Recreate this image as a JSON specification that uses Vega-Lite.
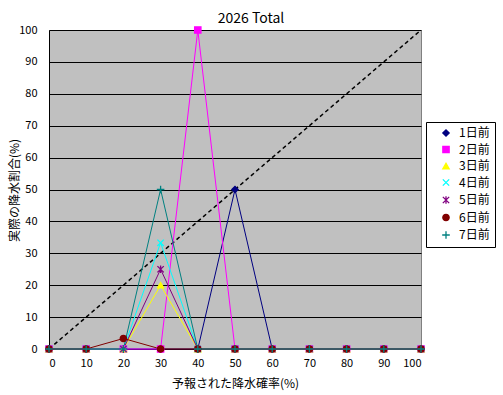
{
  "$schema": "https://vega.github.io/schema/vega-lite/v6.json",
  "width": 372,
  "height": 319,
  "autosize": {"type": "none"},
  "padding": {"left": 49, "top": 30, "right": 82, "bottom": 46},
  "background": "white",
  "title": {"text": "2026 Total", "fontSize": 14, "fontWeight": "normal", "font": "Noto Sans CJK JP", "color": "black", "offset": -2, "dx": 16},
  "config": {
    "view": {"fill": "#c0c0c0", "stroke": "#808080", "strokeWidth": 1},
    "axis": {"labelFont": "Noto Sans CJK JP", "titleFont": "Noto Sans CJK JP", "labelFontSize": 11, "titleFontSize": 12, "titleFontWeight": "normal", "labelColor": "black", "titleColor": "black", "domainColor": "black", "ticks": false},
    "legend": {"labelFont": "Noto Sans CJK JP", "labelFontSize": 12, "labelColor": "black", "title": null, "orient": "none", "legendX": 377, "legendY": 92, "strokeColor": "black", "fillColor": "white", "padding": 5, "rowPadding": 4.5, "symbolSize": 40, "symbolStrokeWidth": 1.3, "symbolOffset": 9, "labelOffset": 7}
  },
  "datasets": {
    "obs": [
      {"p": 0, "s": "1日前", "v": 0}, {"p": 10, "s": "1日前", "v": 0}, {"p": 20, "s": "1日前", "v": 0}, {"p": 30, "s": "1日前", "v": 0}, {"p": 40, "s": "1日前", "v": 0}, {"p": 50, "s": "1日前", "v": 50}, {"p": 60, "s": "1日前", "v": 0}, {"p": 70, "s": "1日前", "v": 0}, {"p": 80, "s": "1日前", "v": 0}, {"p": 90, "s": "1日前", "v": 0}, {"p": 100, "s": "1日前", "v": 0},
      {"p": 0, "s": "2日前", "v": 0}, {"p": 10, "s": "2日前", "v": 0}, {"p": 20, "s": "2日前", "v": 0}, {"p": 30, "s": "2日前", "v": 0}, {"p": 40, "s": "2日前", "v": 100}, {"p": 50, "s": "2日前", "v": 0}, {"p": 60, "s": "2日前", "v": 0}, {"p": 70, "s": "2日前", "v": 0}, {"p": 80, "s": "2日前", "v": 0}, {"p": 90, "s": "2日前", "v": 0}, {"p": 100, "s": "2日前", "v": 0},
      {"p": 0, "s": "3日前", "v": 0}, {"p": 10, "s": "3日前", "v": 0}, {"p": 20, "s": "3日前", "v": 0}, {"p": 30, "s": "3日前", "v": 20}, {"p": 40, "s": "3日前", "v": 0}, {"p": 50, "s": "3日前", "v": 0}, {"p": 60, "s": "3日前", "v": 0}, {"p": 70, "s": "3日前", "v": 0}, {"p": 80, "s": "3日前", "v": 0}, {"p": 90, "s": "3日前", "v": 0}, {"p": 100, "s": "3日前", "v": 0},
      {"p": 0, "s": "4日前", "v": 0}, {"p": 10, "s": "4日前", "v": 0}, {"p": 20, "s": "4日前", "v": 0}, {"p": 30, "s": "4日前", "v": 33.3}, {"p": 40, "s": "4日前", "v": 0}, {"p": 50, "s": "4日前", "v": 0}, {"p": 60, "s": "4日前", "v": 0}, {"p": 70, "s": "4日前", "v": 0}, {"p": 80, "s": "4日前", "v": 0}, {"p": 90, "s": "4日前", "v": 0}, {"p": 100, "s": "4日前", "v": 0},
      {"p": 0, "s": "5日前", "v": 0}, {"p": 10, "s": "5日前", "v": 0}, {"p": 20, "s": "5日前", "v": 0}, {"p": 30, "s": "5日前", "v": 25}, {"p": 40, "s": "5日前", "v": 0}, {"p": 50, "s": "5日前", "v": 0}, {"p": 60, "s": "5日前", "v": 0}, {"p": 70, "s": "5日前", "v": 0}, {"p": 80, "s": "5日前", "v": 0}, {"p": 90, "s": "5日前", "v": 0}, {"p": 100, "s": "5日前", "v": 0},
      {"p": 0, "s": "6日前", "v": 0}, {"p": 10, "s": "6日前", "v": 0}, {"p": 20, "s": "6日前", "v": 3.3}, {"p": 30, "s": "6日前", "v": 0}, {"p": 40, "s": "6日前", "v": 0}, {"p": 50, "s": "6日前", "v": 0}, {"p": 60, "s": "6日前", "v": 0}, {"p": 70, "s": "6日前", "v": 0}, {"p": 80, "s": "6日前", "v": 0}, {"p": 90, "s": "6日前", "v": 0}, {"p": 100, "s": "6日前", "v": 0},
      {"p": 0, "s": "7日前", "v": 0}, {"p": 10, "s": "7日前", "v": 0}, {"p": 20, "s": "7日前", "v": 0}, {"p": 30, "s": "7日前", "v": 50}, {"p": 40, "s": "7日前", "v": 0}, {"p": 50, "s": "7日前", "v": 0}, {"p": 60, "s": "7日前", "v": 0}, {"p": 70, "s": "7日前", "v": 0}, {"p": 80, "s": "7日前", "v": 0}, {"p": 90, "s": "7日前", "v": 0}, {"p": 100, "s": "7日前", "v": 0}
    ],
    "diag": [{"p": 0, "v": 0}, {"p": 100, "v": 100}]
  },
  "encoding": {
    "x": {"field": "p", "type": "quantitative", "scale": {"domain": [0, 100], "nice": false}, "axis": {"values": [0, 10, 20, 30, 40, 50, 60, 70, 80, 90, 100], "grid": false, "labelPadding": 8, "title": "予報された降水確率(%)", "titlePadding": 10}},
    "y": {"field": "v", "type": "quantitative", "scale": {"domain": [0, 100], "nice": false}, "axis": {"values": [0, 10, 20, 30, 40, 50, 60, 70, 80, 90, 100], "grid": true, "gridColor": "black", "gridWidth": 1, "labelPadding": 12, "title": "実際の降水割合(%)", "titleX": -28, "titleY": 160}}
  },
  "layer": [
    {
      "data": {"name": "diag"},
      "mark": {"type": "line", "color": "black", "strokeDash": [4, 3], "strokeWidth": 1.5},
      "encoding": {}
    },
    {
      "data": {"name": "obs"},
      "mark": {"type": "line", "strokeWidth": 1},
      "encoding": {
        "stroke": {"field": "s", "type": "nominal", "scale": {"domain": ["1日前", "2日前", "3日前", "4日前", "5日前", "6日前", "7日前"], "range": ["#000080", "#ff00ff", "#ffff00", "#00ffff", "#800080", "#800000", "#008080"]}}
      }
    },
    {
      "data": {"name": "obs"},
      "mark": {"type": "point", "filled": true, "size": 40, "strokeWidth": 1.3, "opacity": 1, "clip": false},
      "encoding": {
        "fill": {"field": "s", "type": "nominal", "scale": {"domain": ["1日前", "2日前", "3日前", "4日前", "5日前", "6日前", "7日前"], "range": ["#000080", "#ff00ff", "#ffff00", "#00ffff", "#800080", "#800000", "#008080"]}},
        "stroke": {"field": "s", "type": "nominal"},
        "shape": {"field": "s", "type": "nominal", "scale": {"domain": ["1日前", "2日前", "3日前", "4日前", "5日前", "6日前", "7日前"], "range": ["diamond", "square", "triangle-up", "M-1,-1L1,1M-1,1L1,-1", "M-1,-1L1,1M-1,1L1,-1M0,-1.2L0,1.2", "circle", "M-1.2,0L1.2,0M0,-1.2L0,1.2"]}}
      }
    }
  ]
}
